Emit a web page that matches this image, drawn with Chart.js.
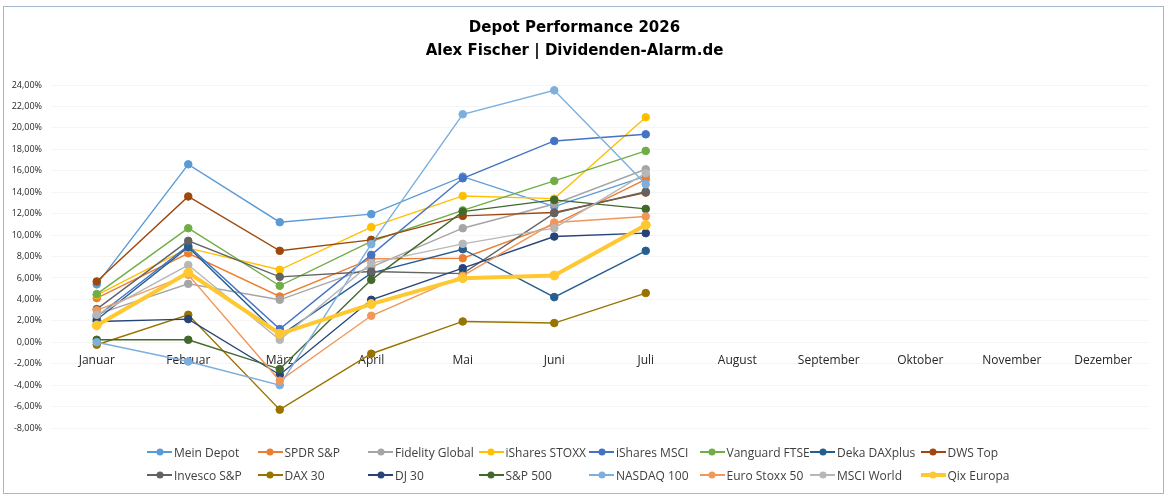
<!DOCTYPE html>
<html>
<head>
<meta charset="utf-8">
<script src="https://cdn.jsdelivr.net/npm/chart.js@4"></script>
<style>
  html, body { margin: 0; padding: 0; background: #fff; }
  body { width: 1168px; height: 501px; position: relative; overflow: hidden; font-family: "Open Sans", sans-serif; }
  #chart { position: absolute; left: 0; top: 0; }
  #frame { position: absolute; left: 3px; top: 6px; width: 1159px; height: 486px; border: 1px solid #a2b8cf; pointer-events: none; }
  #legend { position: absolute; left: 0; top: 0; width: 1168px; height: 501px; pointer-events: none; }
  .item { position: absolute; height: 18px; display: flex; align-items: center; font-size: 12px; color: #404040; white-space: nowrap; }
  .mark { position: relative; width: 25px; height: 18px; margin-right: 2px; }
  .mark .ln { position: absolute; left: 0; right: 0; top: 50%; transform: translateY(-50%); }
  .mark .dot { position: absolute; left: 50%; top: 50%; width: 7px; height: 7px; border-radius: 50%; transform: translate(-50%, -50%); }
</style>
</head>
<body>
<canvas id="chart" width="1168" height="501"></canvas>
<div id="legend"></div>
<div id="frame"></div>
<script>
const MONTHS = ["Januar", "Februar", "März", "April", "Mai", "Juni", "Juli",
  "August", "September", "Oktober", "November", "Dezember"];

const TITLE = ["Depot Performance 2026", "Alex Fischer | Dividenden-Alarm.de"];

// performance in %, Jan..Jul (rest of the year still open)
const meinDepot    = [5.4, 16.6, 11.2, 11.95, 15.45, 12.66, 15.5];
const spdrSP       = [4.12, 8.3, 4.27, 7.78, 7.84, 11.0, 15.2];
const fidelity     = [2.6, 5.45, 3.96, 7.0, 10.64, 12.9, 16.14];
const isharesStoxx = [4.4, 8.78, 6.76, 10.74, 13.65, 13.4, 20.99];
const isharesMsci  = [2.4, 9.0, 1.23, 8.15, 15.3, 18.78, 19.4];
const vanguard     = [4.49, 10.64, 5.27, 9.4, 12.3, 15.05, 17.85];
const dekaDax      = [2.1, 8.87, 0.6, 6.45, 8.68, 4.21, 8.53];
const dwsTop       = [5.67, 13.6, 8.53, 9.55, 11.79, 12.1, 13.96];
const invescoSP    = [3.09, 9.46, 6.1, 6.6, 6.4, 12.04, 14.05];
const dax30        = [-0.23, 2.56, -6.29, -1.07, 1.94, 1.79, 4.59];
const dj30         = [1.94, 2.16, -3.03, 3.96, 6.91, 9.86, 10.18];
const sp500        = [0.23, 0.23, -2.5, 5.82, 12.19, 13.28, 12.44];
const nasdaq100    = [0.0, -1.8, -4.0, 9.15, 21.27, 23.5, 14.74];
const euroStoxx50  = [2.97, 6.3, -3.59, 2.47, 6.2, 11.17, 11.73];
const msciWorld    = [2.56, 7.2, 0.23, 7.38, 9.18, 10.64, 15.77];
const qixEuropa    = [1.57, 6.5, 0.79, 3.56, 5.98, 6.23, 10.95];

const NAMES = ["Mein Depot", "SPDR S&P", "Fidelity Global", "iShares STOXX", "iShares MSCI",
  "Vanguard FTSE", "Deka DAXplus", "DWS Top", "Invesco S&P", "DAX 30", "DJ 30", "S&P 500",
  "NASDAQ 100", "Euro Stoxx 50", "MSCI World", "Qix Europa"];
const SERIES = [meinDepot, spdrSP, fidelity, isharesStoxx, isharesMsci, vanguard, dekaDax, dwsTop,
  invescoSP, dax30, dj30, sp500, nasdaq100, euroStoxx50, msciWorld, qixEuropa];
const COLORS = ["#5B9BD5", "#ED7D31", "#A5A5A5", "#FFC000", "#4472C4", "#70AD47", "#255E91", "#9E480E",
  "#636363", "#997300", "#264478", "#43682B", "#7CAFDD", "#F1975A", "#B7B7B7", "#FFC830"];

const Y_MIN = -8, Y_MAX = 24, Y_STEP = 2;

function pctDE(v){
  return v.toFixed(2).replace(".", ",") + "%";
}

const lastIdx = NAMES.length - 1;
const datasets = SERIES.map((vals, i) => {
  const thick = i === lastIdx; // Qix Europa is highlighted
  return {
    label: NAMES[i],
    data: vals,
    borderColor: COLORS[i],
    backgroundColor: COLORS[i],
    pointBackgroundColor: COLORS[i],
    pointBorderColor: COLORS[i],
    borderWidth: thick ? 4 : 1.4,
    pointRadius: thick ? 4.5 : 3.8,
    pointBorderWidth: 1,
    tension: 0,
    order: NAMES.length - i // later series on top, like Excel
  };
});

new Chart(document.getElementById("chart"), {
  type: "line",
  data: { labels: MONTHS, datasets },
  options: {
    responsive: false,
    animation: false,
    layout: { padding: { left: 0, right: 19, top: 0, bottom: 73 } },
    plugins: {
      legend: { display: false },
      tooltip: { enabled: false },
      title: {
        display: true,
        text: TITLE,
        color: "#000",
        font: { family: "DejaVu Sans", size: 15, weight: "bold", lineHeight: 1.5 },
        padding: { top: 17, bottom: 23 }
      }
    },
    scales: {
      x: {
        position: { y: 0 },
        offset: true,
        grid: { display: false, drawTicks: false },
        border: { display: false },
        ticks: { color: "#262626", font: { family: "Open Sans", size: 12 }, padding: 11, maxRotation: 0, autoSkip: false }
      },
      y: {
        min: Y_MIN,
        max: Y_MAX,
        afterFit: (s) => { s.width = 51; },
        grid: { color: "#f5f5f5", drawTicks: false },
        border: { display: false },
        ticks: { stepSize: Y_STEP, color: "#262626", font: { family: "Open Sans", size: 9 }, padding: 9, callback: pctDE }
      }
    }
  }
});

// legend in Excel-like columns (8 per row)
const legendEl = document.getElementById("legend");
const COL_X0 = 147, COL_W = 110.5, ROW_Y = [452, 475];
NAMES.forEach((name, i) => {
  const col = i % 8, row = Math.floor(i / 8);
  const item = document.createElement("div");
  item.className = "item";
  item.style.left = (COL_X0 + col * COL_W) + "px";
  item.style.top = (ROW_Y[row] - 9) + "px";
  const mark = document.createElement("span");
  mark.className = "mark";
  const ln = document.createElement("span");
  ln.className = "ln";
  ln.style.height = (i === lastIdx ? 4 : 2) + "px";
  ln.style.background = COLORS[i];
  const dot = document.createElement("span");
  dot.className = "dot";
  dot.style.background = COLORS[i];
  mark.appendChild(ln);
  mark.appendChild(dot);
  const txt = document.createElement("span");
  txt.textContent = name;
  item.appendChild(mark);
  item.appendChild(txt);
  legendEl.appendChild(item);
});
</script>
</body>
</html>
